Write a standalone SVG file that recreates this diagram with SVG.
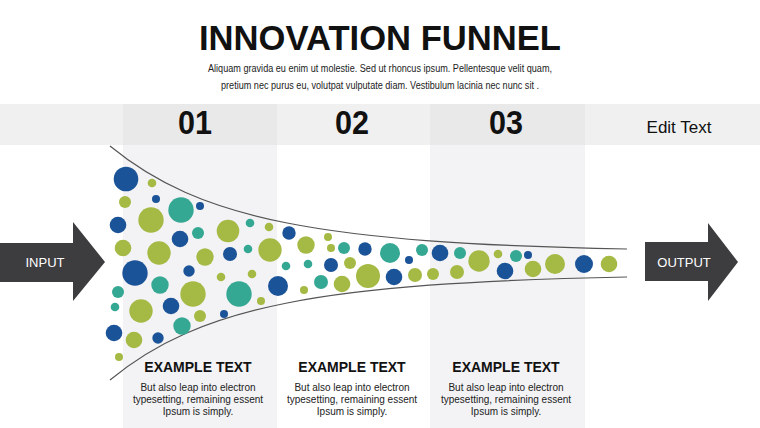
<svg xmlns="http://www.w3.org/2000/svg" width="760" height="428" viewBox="0 0 760 428">
<style>
text{font-family:"Liberation Sans",Arial,sans-serif;fill:#111}
.num{font-size:33px;font-weight:bold;text-anchor:middle}
.hd{font-size:14px;font-weight:bold;text-anchor:middle}
.bd{font-size:10px;text-anchor:middle;fill:#222}
.sub{font-size:10px;text-anchor:middle;fill:#222}
.lbl{font-size:13px;fill:#fff;text-anchor:middle}
.b{fill:#1b5398}.t{fill:#35a893}.g{fill:#a5ba45}
.arrow{fill:#3d3d3f}
.curve{fill:none;stroke:#555;stroke-width:1.2}
</style>
<rect width="760" height="428" fill="#fff"/>
<g id="background">
<rect x="123" y="104" width="154" height="324" fill="#f3f3f5"/>
<rect x="430" y="104" width="155" height="324" fill="#f3f3f5"/>
<rect x="0" y="104" width="760" height="41" fill="#f0f0f0"/>
<rect x="123" y="104" width="154" height="41" fill="#e9e9ea"/>
<rect x="430" y="104" width="155" height="41" fill="#e9e9ea"/>
</g>
<g id="title">
<text x="380" y="50" font-size="35" font-weight="bold" text-anchor="middle" textLength="362" lengthAdjust="spacingAndGlyphs">INNOVATION FUNNEL</text>
<text class="sub" x="380" y="72" textLength="344" lengthAdjust="spacingAndGlyphs">Aliquam gravida eu enim ut molestie. Sed ut rhoncus ipsum. Pellentesque velit quam,</text>
<text class="sub" x="380" y="89" textLength="318" lengthAdjust="spacingAndGlyphs">pretium nec purus eu, volutpat vulputate diam. Vestibulum lacinia nec nunc sit .</text>
</g>
<g id="header">
<text class="num" x="195" y="134" textLength="34" lengthAdjust="spacingAndGlyphs">01</text>
<text class="num" x="352" y="134" textLength="34" lengthAdjust="spacingAndGlyphs">02</text>
<text class="num" x="506" y="134" textLength="34" lengthAdjust="spacingAndGlyphs">03</text>
<text x="679" y="133" font-size="17" text-anchor="middle">Edit Text</text>
</g>
<g id="connectors">
<path class="curve" d="M110,146 C200,220 320,243 627,249"/>
<path class="curve" d="M110,380 C200,306 320,283 627,277"/>
</g>
<g id="input">
<path class="arrow" d="M0,243 H73 V222 L105,262 L73,301 V282 H0 Z"/>
<text class="lbl" x="45" y="267">INPUT</text>
</g>
<g id="output">
<path class="arrow" d="M645,242 H708 V223 L738,262 L708,301 V281 H645 Z"/>
<text class="lbl" x="684" y="267">OUTPUT</text>
</g>
<g id="bubbles">
<circle class="b" cx="126" cy="179" r="12.3"/>
<circle class="g" cx="152" cy="183" r="4.3"/>
<circle class="g" cx="125" cy="202" r="6"/>
<circle class="b" cx="156" cy="199" r="4"/>
<circle class="t" cx="181" cy="210" r="12.7"/>
<circle class="b" cx="200" cy="206" r="4"/>
<circle class="g" cx="151" cy="220" r="12.7"/>
<circle class="b" cx="118" cy="225" r="8.3"/>
<circle class="b" cx="180" cy="239" r="8.3"/>
<circle class="t" cx="198" cy="233" r="6"/>
<circle class="g" cx="228" cy="231" r="11.3"/>
<circle class="t" cx="250" cy="223" r="4.3"/>
<circle class="g" cx="269" cy="227" r="4.3"/>
<circle class="b" cx="289" cy="233" r="6.7"/>
<circle class="g" cx="306" cy="245" r="8.7"/>
<circle class="g" cx="328" cy="237" r="4"/>
<circle class="g" cx="331" cy="248" r="4"/>
<circle class="t" cx="344" cy="248" r="6"/>
<circle class="b" cx="365" cy="249" r="6.7"/>
<circle class="g" cx="123" cy="248" r="8.3"/>
<circle class="g" cx="159" cy="253" r="11.7"/>
<circle class="g" cx="205" cy="257" r="8.7"/>
<circle class="b" cx="230" cy="254" r="7"/>
<circle class="t" cx="248" cy="249" r="4.3"/>
<circle class="g" cx="270" cy="250" r="11.7"/>
<circle class="b" cx="135" cy="273" r="12.7"/>
<circle class="b" cx="189" cy="271" r="5.7"/>
<circle class="g" cx="221" cy="277" r="4.3"/>
<circle class="g" cx="252" cy="274" r="4.3"/>
<circle class="t" cx="286" cy="266" r="4.3"/>
<circle class="t" cx="308" cy="264" r="4.3"/>
<circle class="b" cx="331" cy="265" r="7"/>
<circle class="g" cx="350" cy="263" r="6"/>
<circle class="g" cx="368" cy="276" r="12"/>
<circle class="t" cx="160" cy="285" r="8.7"/>
<circle class="g" cx="193" cy="294" r="12.7"/>
<circle class="t" cx="239" cy="294" r="12.7"/>
<circle class="b" cx="278" cy="286" r="10"/>
<circle class="t" cx="118" cy="292" r="6"/>
<circle class="t" cx="115" cy="307" r="4.3"/>
<circle class="g" cx="141" cy="311" r="11.7"/>
<circle class="b" cx="171" cy="306" r="8.3"/>
<circle class="g" cx="261" cy="301" r="4"/>
<circle class="g" cx="304" cy="290" r="4"/>
<circle class="t" cx="321" cy="282" r="7"/>
<circle class="g" cx="342" cy="284" r="8.3"/>
<circle class="g" cx="200" cy="316" r="6"/>
<circle class="b" cx="224" cy="314" r="4"/>
<circle class="t" cx="182" cy="326" r="8.7"/>
<circle class="b" cx="114" cy="333" r="8.3"/>
<circle class="g" cx="134" cy="340" r="8.3"/>
<circle class="b" cx="158" cy="338" r="5.7"/>
<circle class="g" cx="119" cy="357" r="4"/>
<circle class="t" cx="390" cy="253" r="10"/>
<circle class="b" cx="409" cy="260" r="4"/>
<circle class="t" cx="422" cy="250" r="6"/>
<circle class="b" cx="440" cy="253" r="8.3"/>
<circle class="t" cx="460" cy="253" r="6"/>
<circle class="g" cx="479" cy="261" r="10.7"/>
<circle class="g" cx="498" cy="254" r="4.3"/>
<circle class="t" cx="516" cy="256" r="6"/>
<circle class="b" cx="528" cy="255" r="4"/>
<circle class="g" cx="555" cy="264" r="10"/>
<circle class="b" cx="584" cy="264" r="9"/>
<circle class="g" cx="609" cy="264" r="8.3"/>
<circle class="b" cx="394" cy="277" r="8.3"/>
<circle class="g" cx="415" cy="275" r="7"/>
<circle class="g" cx="433" cy="274" r="6"/>
<circle class="g" cx="457" cy="272" r="7"/>
<circle class="b" cx="505" cy="271" r="8.3"/>
<circle class="g" cx="533" cy="269" r="8.3"/>
</g>
<g id="col1">
<text class="hd" x="198" y="372">EXAMPLE TEXT</text>
<text class="bd" x="198" y="391">But also leap into electron</text>
<text class="bd" x="198" y="403">typesetting, remaining essent</text>
<text class="bd" x="198" y="415">Ipsum is simply.</text>
</g>
<g id="col2">
<text class="hd" x="352" y="372">EXAMPLE TEXT</text>
<text class="bd" x="352" y="391">But also leap into electron</text>
<text class="bd" x="352" y="403">typesetting, remaining essent</text>
<text class="bd" x="352" y="415">Ipsum is simply.</text>
</g>
<g id="col3">
<text class="hd" x="506" y="372">EXAMPLE TEXT</text>
<text class="bd" x="506" y="391">But also leap into electron</text>
<text class="bd" x="506" y="403">typesetting, remaining essent</text>
<text class="bd" x="506" y="415">Ipsum is simply.</text>
</g>
</svg>
